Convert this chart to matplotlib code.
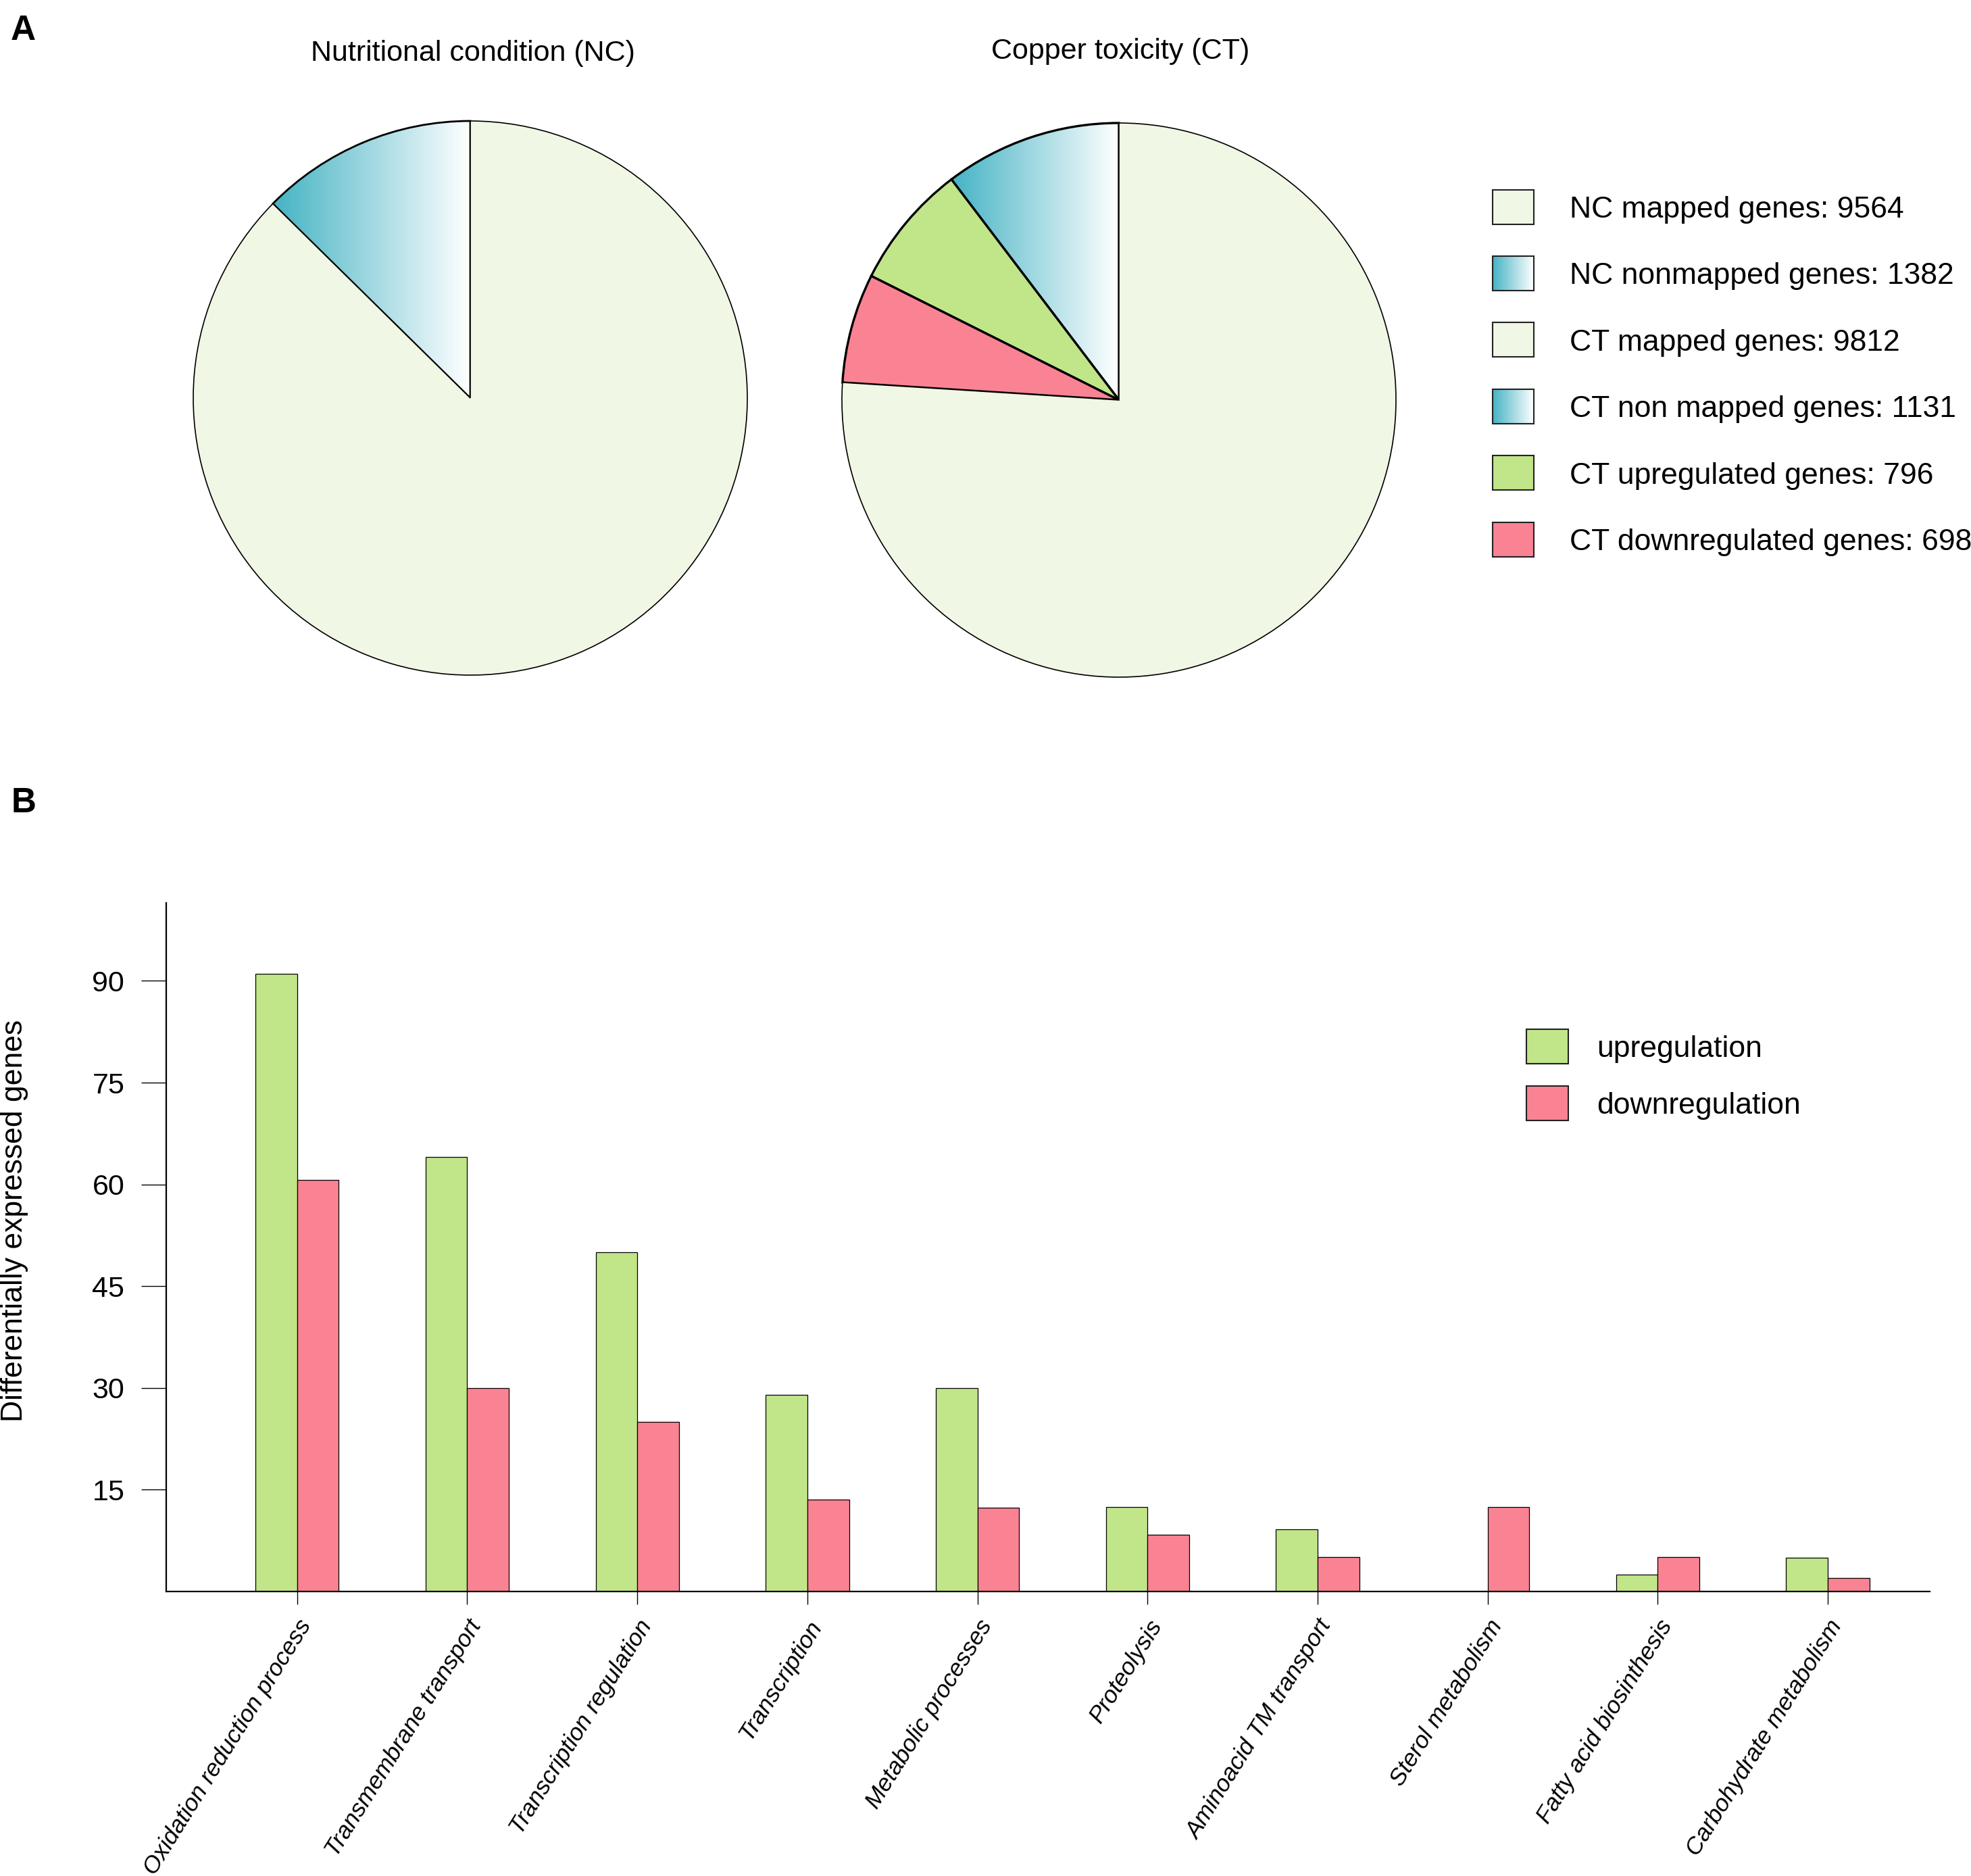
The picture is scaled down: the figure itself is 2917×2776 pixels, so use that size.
import numpy as np
import matplotlib
matplotlib.use("Agg")
import matplotlib.pyplot as plt
from matplotlib.patches import Rectangle
from matplotlib.colors import LinearSegmentedColormap

plt.rcParams['font.family'] = ['Liberation Sans', 'DejaVu Sans']

# ---------------- data ----------------
nc_labels = ["NC mapped genes", "NC nonmapped genes"]
nc_values = [9564, 1382]
ct_labels = ["CT mapped genes", "CT non mapped genes", "CT upregulated genes", "CT downregulated genes"]
ct_mapped = 9812
ct_nonmapped = 1131
ct_up = 796
ct_down = 698

categories = ["Oxidation reduction process", "Transmembrane transport", "Transcription regulation",
              "Transcription", "Metabolic processes", "Proteolysis", "Aminoacid TM transport",
              "Sterol metabolism", "Fatty acid biosinthesis", "Carbohydrate metabolism"]
upregulation = [91, 64, 50, 29, 30, 12.5, 9.2, 0, 2.5, 5]
downregulation = [60.7, 30, 25, 13.5, 12.4, 8.4, 5.1, 12.5, 5.1, 2]
yticks = [15, 30, 45, 60, 75, 90]

# ---------------- style ----------------
C_MAPPED = "#f0f7e5"
C_UP = "#c1e589"
C_DOWN = "#f98393"
C_TEAL = "#45b3c4"
grad_cmap = LinearSegmentedColormap.from_list("tealwhite", [C_TEAL, "#ffffff"])
gradient = np.linspace(0, 1, 256).reshape(1, -1)

W, H, DPI = 2917, 2776, 100
fig = plt.figure(figsize=(W / DPI, H / DPI), dpi=DPI)
axf = fig.add_axes([0, 0, 1, 1])
axf.set_axis_off()


def py(y):
    return H - y


def add_gradient_wedge(ax, wedge, cx, cy, r, a1, a2):
    wedge.set_facecolor("none")
    angs = np.radians(np.linspace(a1, a2, 50))
    xs = np.concatenate([[cx], cx + r * np.cos(angs)])
    x0, x1 = xs.min(), xs.max()
    im = ax.imshow(gradient, cmap=grad_cmap, aspect="auto",
                   extent=[x0, x1, cy - r * 1.05, cy + r * 1.05], zorder=0.5, interpolation="bicubic")
    im.set_clip_path(wedge)


R = 410
# NC pie
ncx, ncy = 696, py(589)
nc_order = [nc_values[1], nc_values[0]]
w1, _ = axf.pie(nc_order, colors=["white", C_MAPPED], startangle=90, counterclock=True,
                radius=R, center=(ncx, ncy),
                wedgeprops=dict(edgecolor="black", linewidth=1.2))
w1[0].set_linewidth(2.0)
a_end = 90 + 360 * nc_values[1] / sum(nc_values)
add_gradient_wedge(axf, w1[0], ncx, ncy, R, 90, a_end)

# CT pie
ctx, cty = 1656, py(592)
ct_rest = ct_mapped - ct_up - ct_down
ct_order = [ct_nonmapped, ct_up, ct_down, ct_rest]
w2, _ = axf.pie(ct_order, colors=["white", C_UP, C_DOWN, C_MAPPED], startangle=90, counterclock=True,
                radius=R, center=(ctx, cty),
                wedgeprops=dict(edgecolor="black", linewidth=1.2))
for k in (0, 1, 2):
    w2[k].set_linewidth(2.4)
tot = sum(ct_order)
a_end2 = 90 + 360 * ct_nonmapped / tot
add_gradient_wedge(axf, w2[0], ctx, cty, R, 90, a_end2)

axf.set_aspect("auto")
axf.set_xlim(0, W)
axf.set_ylim(0, H)

# titles and panel letters
axf.text(700, py(90), "Nutritional condition (NC)", ha="center", va="baseline", fontsize=31)
axf.text(1658, py(87), "Copper toxicity (CT)", ha="center", va="baseline", fontsize=31)
axf.text(16, py(59), "A", ha="left", va="baseline", fontsize=37, fontweight="bold")
axf.text(17, py(1202), "B", ha="left", va="baseline", fontsize=37, fontweight="bold")

# pie legend
leg_labels = [f"{nc_labels[0]}: {nc_values[0]}", f"{nc_labels[1]}: {nc_values[1]}",
              f"{ct_labels[0]}: {ct_mapped}", f"{ct_labels[1]}: {ct_nonmapped}",
              f"{ct_labels[2]}: {ct_up}", f"{ct_labels[3]}: {ct_down}"]
leg_fill = [C_MAPPED, "grad", C_MAPPED, "grad", C_UP, C_DOWN]
leg_fs = 32
cap = 0.716 * leg_fs * DPI / 72
for i, (lab, fc) in enumerate(zip(leg_labels, leg_fill)):
    yc = 306 + i * 98.4
    bx, bw, bh = 2209, 61, 51
    rect = Rectangle((bx, py(yc) - bh / 2), bw, bh, facecolor="none" if fc == "grad" else fc,
                     edgecolor="#222222", linewidth=1.5, zorder=2)
    axf.add_patch(rect)
    if fc == "grad":
        axf.imshow(gradient, cmap=grad_cmap, aspect="auto",
                   extent=[bx, bx + bw, py(yc) - bh / 2, py(yc) + bh / 2], zorder=1)
    axf.text(2323, py(yc + cap / 2), lab, ha="left", va="baseline", fontsize=leg_fs)

# bar legend
for i, (lab, fc) in enumerate(zip(["upregulation", "downregulation"], [C_UP, C_DOWN])):
    yc = 1548 + i * 84
    rect = Rectangle((2259, py(yc) - 25.5), 62, 51, facecolor=fc, edgecolor="#222222",
                     linewidth=1.5, zorder=2)
    axf.add_patch(rect)
    axf.text(2363, py(yc + cap / 2), lab, ha="left", va="baseline", fontsize=leg_fs)

axf.set_xlim(0, W)
axf.set_ylim(0, H)

# ---------------- bar chart ----------------
ax2 = fig.add_axes([246 / W, (H - 2355) / H, (2856 - 246) / W, (2355 - 1336) / H])
x = np.arange(len(categories))
bw = 0.245
ax2.bar(x - bw / 2, upregulation, bw, color=C_UP, edgecolor="black", linewidth=0.9)
ax2.bar(x + bw / 2, downregulation, bw, color=C_DOWN, edgecolor="black", linewidth=0.9)
ax2.set_xlim(-0.77, 9.6)
ax2.set_ylim(0, 101.5)
ax2.spines["top"].set_visible(False)
ax2.spines["right"].set_visible(False)
ax2.spines["left"].set_linewidth(1.6)
ax2.spines["bottom"].set_linewidth(1.6)
ax2.set_yticks(yticks)
ax2.set_yticklabels([str(v) for v in yticks], fontsize=31)
ax2.tick_params(axis="y", direction="out", length=26.5, width=1.0, pad=18)
ax2.set_xticks(x)
ax2.set_xticklabels(categories, rotation=58, ha="right", va="top", rotation_mode="anchor",
                    fontsize=25.5, style="italic")
ax2.tick_params(axis="x", direction="out", length=14, width=1.0, pad=12)
ax2.patch.set_alpha(0)

fig.text(22 / W, (H - 1806) / H, "Differentially expressed genes", rotation=90,
         ha="center", va="center", fontsize=32)

fig.savefig("out.png", dpi=DPI)
